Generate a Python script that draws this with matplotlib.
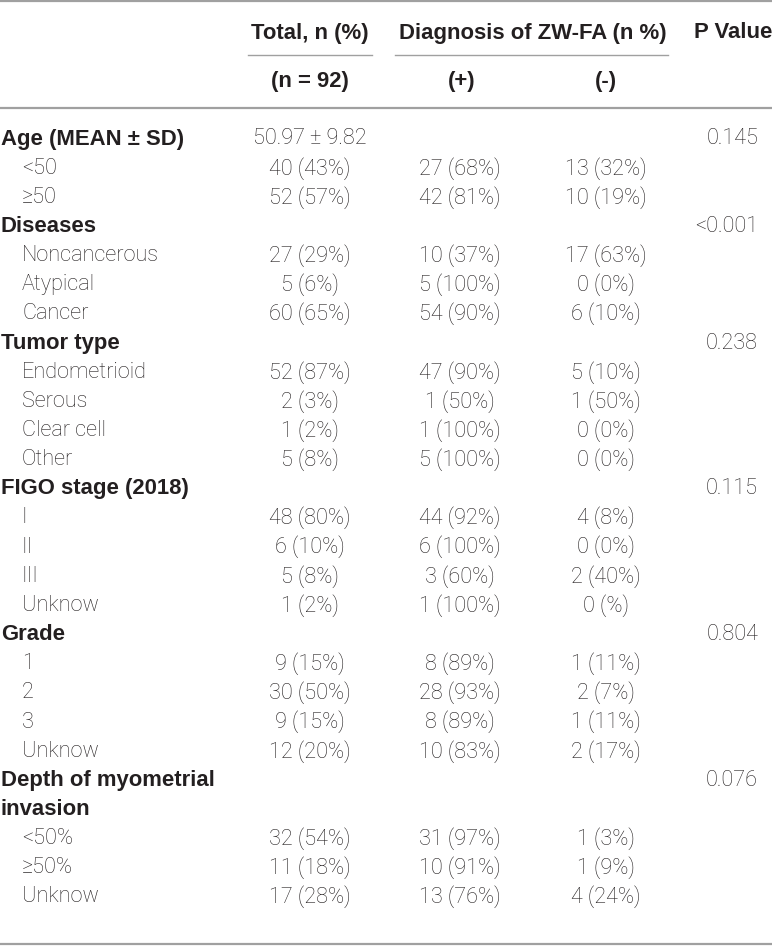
import matplotlib
matplotlib.use("Agg")
import matplotlib.pyplot as plt

# table content
labels = ["Age (MEAN ± SD)", "<50", "≥50",
          "Diseases", "Noncancerous", "Atypical", "Cancer",
          "Tumor type", "Endometrioid", "Serous", "Clear cell", "Other",
          "FIGO stage (2018)", "I", "II", "III", "Unknow",
          "Grade", "1", "2", "3", "Unknow",
          "Depth of myometrial", "invasion", "<50%", "≥50%", "Unknow"]
is_head = [1, 0, 0, 1, 0, 0, 0, 1, 0, 0, 0, 0, 1, 0, 0, 0, 0,
           1, 0, 0, 0, 0, 1, 1, 0, 0, 0]
total = ["50.97 ± 9.82", "40 (43%)", "52 (57%)",
         "", "27 (29%)", "5 (6%)", "60 (65%)",
         "", "52 (87%)", "2 (3%)", "1 (2%)", "5 (8%)",
         "", "48 (80%)", "6 (10%)", "5 (8%)", "1 (2%)",
         "", "9 (15%)", "30 (50%)", "9 (15%)", "12 (20%)",
         "", "", "32 (54%)", "11 (18%)", "17 (28%)"]
pos = ["", "27 (68%)", "42 (81%)",
       "", "10 (37%)", "5 (100%)", "54 (90%)",
       "", "47 (90%)", "1 (50%)", "1 (100%)", "5 (100%)",
       "", "44 (92%)", "6 (100%)", "3 (60%)", "1 (100%)",
       "", "8 (89%)", "28 (93%)", "8 (89%)", "10 (83%)",
       "", "", "31 (97%)", "10 (91%)", "13 (76%)"]
neg = ["", "13 (32%)", "10 (19%)",
       "", "17 (63%)", "0 (0%)", "6 (10%)",
       "", "5 (10%)", "1 (50%)", "0 (0%)", "0 (0%)",
       "", "4 (8%)", "0 (0%)", "2 (40%)", "0 (%)",
       "", "1 (11%)", "2 (7%)", "1 (11%)", "2 (17%)",
       "", "", "1 (3%)", "1 (9%)", "4 (24%)"]
pval = ["0.145", "", "", "<0.001", "", "", "", "0.238", "", "", "", "",
        "0.115", "", "", "", "", "0.804", "", "", "", "",
        "0.076", "", "", "", ""]

W, H = 772, 946
fig = plt.figure(figsize=(W / 100, H / 100), dpi=100)
ax = fig.add_axes([0, 0, 1, 1])
ax.set_xlim(0, W)
ax.set_ylim(H, 0)
ax.axis("off")

txt = "#231f20"
line_c = "#a0a0a0"
bold = dict(family=["Liberation Sans", "DejaVu Sans"], weight="bold", fontsize=15.9, color=txt)
body = dict(family=["Roboto", "DejaVu Sans"], weight="light", fontsize=15.6, color=txt)

# rules
ax.plot([0, W], [1, 1], color=line_c, lw=1.6)
ax.plot([248, 372], [55, 55], color=line_c, lw=1.0)
ax.plot([395, 668], [55, 55], color=line_c, lw=1.0)
ax.plot([0, W], [108, 108], color=line_c, lw=1.6)
ax.plot([0, W], [944, 944], color=line_c, lw=1.6)

# header
ax.text(310, 33, "Total, n (%)", ha="center", va="center", **bold)
ax.text(533, 33, "Diagnosis of ZW-FA (n %)", ha="center", va="center", **bold)
ax.text(772, 33, "P Value", ha="right", va="center", **bold)
ax.text(310, 82, "(n = 92)", ha="center", va="center", **bold)
ax.text(462, 82, "(+)", ha="center", va="center", **bold)
ax.text(606, 82, "(-)", ha="center", va="center", **bold)

y0, step = 139, 29.15
for i, lab in enumerate(labels):
    y = y0 + i * step
    if is_head[i]:
        ax.text(1, y, lab, ha="left", va="center", **bold)
    else:
        ax.text(22, y, lab, ha="left", va="center", **body)
    ax.text(310, y, total[i], ha="center", va="center", **body)
    ax.text(460, y, pos[i], ha="center", va="center", **body)
    ax.text(606, y, neg[i], ha="center", va="center", **body)
    ax.text(758, y, pval[i], ha="right", va="center", **body)

fig.savefig("out.png", dpi=100, facecolor="white")
